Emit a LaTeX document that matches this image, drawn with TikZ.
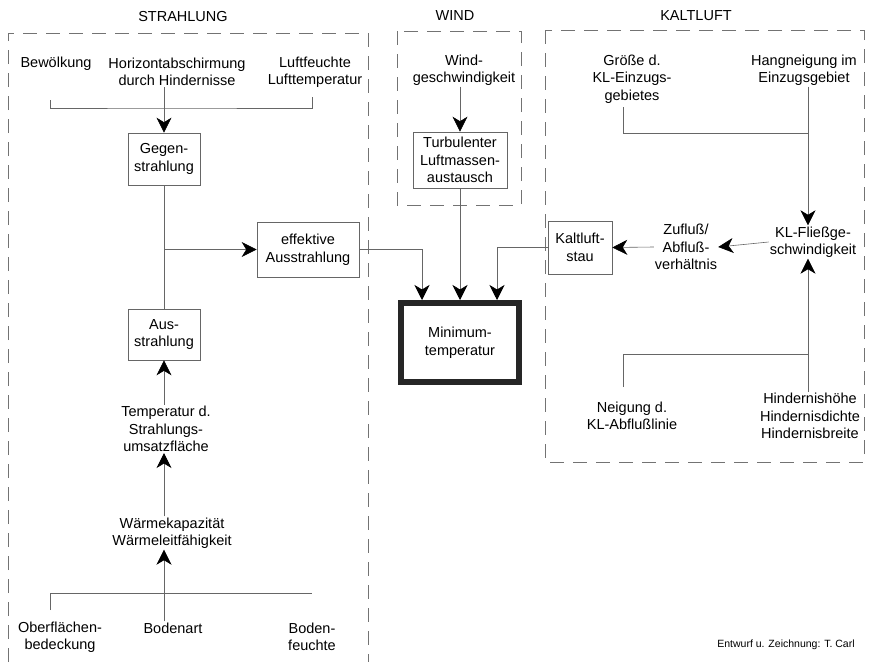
\documentclass[tikz,border=0pt]{standalone}
\usepackage{fontspec}
\setmainfont{Liberation Sans}
\usetikzlibrary{arrows.meta}
\begin{document}
\begin{tikzpicture}[x=1pt,y=-1pt,
  txt/.style={font=\fontsize{14.5}{17.5}\selectfont, align=center, inner sep=1pt},
  bx/.style={txt, draw=black!60, line width=0.6pt, inner sep=0pt},
  grp/.style={draw=black!55, line width=0.7pt, dash pattern=on 14pt off 9pt},
  conn/.style={draw=black!60, line width=0.6pt},
  arr/.style={conn, -{Stealth[length=15pt,width=15pt,inset=4.5pt,color=black]}},
  ttl/.style={font=\fontsize{14.5}{17}\selectfont, inner sep=0pt}]
\useasboundingbox (0,0) rectangle (870,662);

% group frames
\draw[grp] (8,662) -- (8,33) -- (368,33) -- (368,662);
\draw[grp] (397,31) rectangle (521,205);
\draw[grp] (545,30) rectangle (864,462);

% titles
\node[ttl] (tS) at (183,17) {STRAHLUNG};
\node[ttl] (tW) at (455,16) {WIND};
\node[ttl] (tK) at (696,16) {KALTLUFT};

% STRAHLUNG
\node[txt] (bew) at (56,64) {Bewölkung};
\node[txt] (hor) at (177,72) {Horizontabschirmung\\durch Hindernisse};
\node[txt] (luft) at (315,72) {Luftfeuchte\\Lufttemperatur};
\node[bx, minimum width=72pt, minimum height=52pt] (gegen) at (164,159) {Gegen-\\strahlung};
\node[bx, minimum width=102pt, minimum height=55pt] (eff) at (308,249.5) {effektive\\Ausstrahlung};
\node[bx, minimum width=72pt, minimum height=51pt] (aus) at (164,334.5) {Aus-\\strahlung};
\node[txt] (temp) at (166,429) {Temperatur d.\\Strahlungs-\\umsatzfläche};
\node[txt] (warme) at (172,533) {Wärmekapazität\\Wärmeleitfähigkeit};
\node[txt] (ober) at (60,637) {Oberflächen-\\bedeckung};
\node[txt] (boden) at (173,628) {Bodenart};
\node[txt] (bfeu) at (312,637) {Boden-\\feuchte};

\coordinate (s1) at (50,100);
\coordinate (jt) at (163,108);
\coordinate (s2) at (312,97);
\draw[conn] (s1) |- (jt) -| (s2);
\draw[arr] (hor.south -| gegen.north) -- (gegen.north);
\draw[conn] (gegen.south) -- (aus.north);
\draw[arr] (gegen.south |- eff.west) -- (eff.west);
\draw[arr] (temp.north -| aus.south) -- (aus.south);
\draw[arr] (warme.north -| aus.south) -- (temp.south -| aus.south);
\coordinate (b1) at (50,610);
\coordinate (b2) at (312,593);
\draw[conn] (b1) |- (b2);
\draw[arr] (boden.north -| aus.south) -- (warme.south -| aus.south);

% WIND
\node[txt] (wg) at (464,70) {Wind-\\geschwindigkeit};
\node[bx, minimum width=94pt, minimum height=56pt] (turb) at (460,160) {Turbulenter\\Luftmassen-\\austausch};
\node[txt, draw=black!85, line width=6pt, minimum width=118pt, minimum height=79pt] (min) at (460,342.5) {Minimum-\\temperatur};
\draw[arr] (wg.south -| turb.north) -- (turb.north);
\draw[arr] (turb.south) -- (min.north);
\draw[arr] (eff.east) -| ([xshift=-38pt]min.north);

% KALTLUFT
\node[txt] (groesse) at (632,79) {Größe d.\\KL-Einzugs-\\gebietes};
\node[txt] (hang) at (804,70) {Hangneigung im\\Einzugsgebiet};
\node[txt] (kl) at (813,242) {KL-Fließge-\\schwindigkeit};
\node[txt] (zu) at (686,247) {Zufluß/\\Abfluß-\\verhältnis};
\node[bx, minimum width=64pt, minimum height=53pt] (stau) at (580,247.5) {Kaltluft-\\stau};
\node[txt] (neig) at (632,416) {Neigung d.\\KL-Abflußlinie};
\node[txt] (hind) at (810,416) {Hindernishöhe\\Hindernisdichte\\Hindernisbreite};

\draw[arr] (stau.west) -| ([xshift=37pt]min.north);
\coordinate (k1) at (623,107);
\coordinate (kj) at (808,133);
\draw[conn] (k1) |- (kj);
\draw[arr] (hang.south -| kj) -- (kl.north -| kj);
\draw[arr] (kl.west) -- (zu.east);
\draw[arr] (zu.west) -- (stau.east);
\coordinate (n1) at (623,387);
\coordinate (nj) at (808,354);
\draw[conn] (n1) |- (nj);
\draw[arr] (hind.north -| nj) -- (kl.south -| nj);

\node[font=\fontsize{10.5}{12}\selectfont, inner sep=0pt] (cr) at (786,645) {Entwurf u. Zeichnung: T. Carl};
\end{tikzpicture}
\end{document}
